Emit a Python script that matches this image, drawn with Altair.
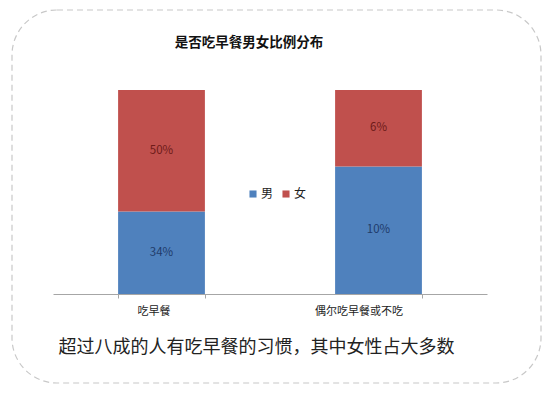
import altair as alt
import pandas as pd

categories = ["吃早餐", "偶尔吃早餐或不吃"]
genders = ["男", "女"]
male_values = [34, 10]
female_values = [50, 6]
chart_title = "是否吃早餐男女比例分布"
caption = "超过八成的人有吃早餐的习惯，其中女性占大多数"

colors = ["#4F81BD", "#C0504D"]
text_colors = ["#1F3B6A", "#6E1B19"]

rows = []
for c, m, f in zip(categories, male_values, female_values):
    rows.append({"类别": c, "性别": genders[0], "值": m, "序": 0, "标签": f"{m}%", "字色": text_colors[0]})
    rows.append({"类别": c, "性别": genders[1], "值": f, "序": 1, "标签": f"{f}%", "字色": text_colors[1]})
df = pd.DataFrame(rows)

FONT = "Noto Sans CJK SC"

base = alt.Chart(df).transform_stack(
    stack="值", groupby=["类别"], as_=["y0", "y1"], offset="normalize",
    sort=[alt.SortField("序")]
).transform_calculate(mid="(datum.y0 + datum.y1) / 2")

x_enc = alt.X(
    "类别:N", sort=categories,
    scale=alt.Scale(paddingInner=0.6, paddingOuter=0.3),
    axis=alt.Axis(
        title=caption,
        titleFontSize=18, titleFontWeight="normal", titleColor="#222222", titleFont=FONT,
        titleX=203, titleY=53, titleBaseline="middle", titleAnchor="middle", titleAlign="center",
        labelAngle=0, labelFontSize=11, labelColor="#222222", labelFont=FONT,
        labelPadding=7,
        labelOffset=alt.ExprRef("datum.label == '吃早餐' ? -8 : -20"),
        domainColor="#A6A6A6", tickColor="#A6A6A6", tickSize=4, tickBand="extent",
    ),
)

bars = base.mark_bar().encode(
    x=x_enc,
    y=alt.Y("y0:Q", scale=alt.Scale(domain=[0, 1]), axis=None),
    y2="y1:Q",
    color=alt.Color(
        "性别:N", scale=alt.Scale(domain=genders, range=colors),
        legend=alt.Legend(
            orient="none", legendX=194, legendY=98, direction="horizontal", title=None,
            symbolType="square", symbolSize=50, symbolStrokeWidth=0,
            labelFontSize=12, labelFont=FONT, labelColor="#222222",
            columnPadding=6, labelOffset=2,
        ),
    ),
    order=alt.Order("序:Q"),
)

labels = base.mark_text(fontSize=11.5, font=FONT).encode(
    x=alt.X("类别:N", sort=categories),
    y=alt.Y("mid:Q"),
    text="标签:N",
    color=alt.Color("字色:N", scale=None),
)

title_df = pd.DataFrame({"t": [chart_title]})
title_mark = alt.Chart(title_df).mark_text(
    fontSize=13.5, fontWeight="bold", font=FONT, color="#111111", align="center", baseline="middle"
).encode(x=alt.value(196), y=alt.value(-47), text="t:N")

border = alt.Chart(pd.DataFrame({"k": [0]})).mark_rect(
    fillOpacity=0, stroke="#C8C8C8", strokeWidth=1.2, strokeDash=[6, 4], cornerRadius=45
).encode(
    x=alt.value(-41), x2=alt.value(488), y=alt.value(-80), y2=alt.value(293)
)

chart = alt.layer(border, bars, labels, title_mark).properties(
    width=434, height=204,
    autosize=alt.AutoSizeParams(type="none"),
    padding={"left": 53, "top": 90, "right": 63, "bottom": 100},
    background="white",
).configure_view(stroke=None)

chart.save("out.html", embed_options={"renderer": "svg", "actions": False})
